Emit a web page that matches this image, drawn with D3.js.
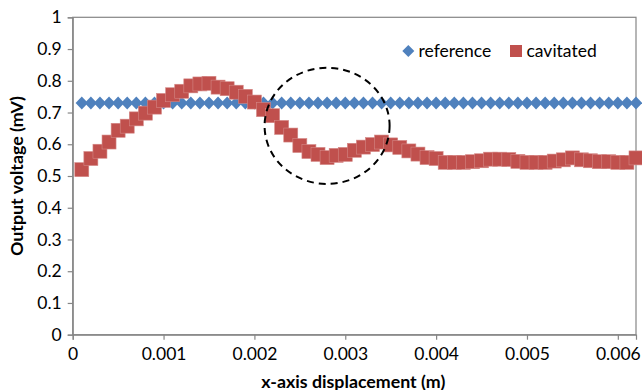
<!DOCTYPE html>
<html>
<head>
<meta charset="utf-8">
<script src="https://cdn.jsdelivr.net/npm/d3@7"></script>
<style>
  html, body { margin: 0; padding: 0; background: #ffffff; }
  svg { display: block; }
  text { font-family: Lato, "Open Sans", sans-serif; fill: #000; }
</style>
</head>
<body>
<svg id="chart" width="642" height="390"></svg>
<script>
// Displacement positions (m)
const xValues = d3.range(1, 63).map(i => +(i * 0.0001).toFixed(4));

// Output voltage (mV)
const referenceValues = xValues.map(() => 0.73);
const cavitatedValues = [
  0.520, 0.555, 0.578, 0.607, 0.644, 0.657, 0.680, 0.698, 0.717, 0.738,
  0.756, 0.767, 0.784, 0.790, 0.792, 0.780, 0.775, 0.764, 0.751, 0.733,
  0.709, 0.690, 0.653, 0.629, 0.596, 0.577, 0.568, 0.558, 0.565, 0.568,
  0.581, 0.591, 0.599, 0.607, 0.598, 0.590, 0.579, 0.569, 0.558, 0.555,
  0.543, 0.543, 0.543, 0.545, 0.548, 0.553, 0.553, 0.552, 0.546, 0.543,
  0.543, 0.543, 0.547, 0.551, 0.557, 0.551, 0.548, 0.545, 0.545, 0.543,
  0.543, 0.557
];

const seriesNames = ["reference", "cavitated"];
const seriesColors = ["#4F81BD", "#C0504D"];

const xTicks = [0, 0.001, 0.002, 0.003, 0.004, 0.005, 0.006];
const yTicks = [0, 0.1, 0.2, 0.3, 0.4, 0.5, 0.6, 0.7, 0.8, 0.9, 1];

// Highlighted region (dashed ellipse), in data units
const highlight = { cx: 0.0028, cy: 0.658, rx: 0.000688, ry: 0.183 };

const svg = d3.select("#chart");
const margin = { left: 72.7, right: 6, top: 17.3, bottom: 55.3 };
const W = 642, H = 390;
const fs = 17.5;

const x = d3.scaleLinear().domain([0, 0.0062]).range([margin.left, W - margin.right]);
const y = d3.scaleLinear().domain([0, 1]).range([H - margin.bottom, margin.top]);

const axisColor = "#868686";

// Plot area border
svg.append("rect")
  .attr("x", x(0)).attr("y", y(1))
  .attr("width", x(0.0062) - x(0)).attr("height", y(0) - y(1))
  .attr("fill", "none").attr("stroke", axisColor).attr("stroke-width", 1.2);

// Y axis
const yAxis = svg.append("g")
  .attr("transform", `translate(${x(0)},0)`)
  .call(d3.axisLeft(y).tickValues(yTicks).tickSize(5).tickPadding(6)
    .tickFormat(d => d === 0 ? "0" : d3.format("")(d)));
yAxis.select(".domain").attr("stroke", axisColor).attr("stroke-width", 1.2);
yAxis.selectAll(".tick line").attr("stroke", axisColor).attr("stroke-width", 1.2);
yAxis.selectAll("text").attr("font-size", fs).attr("font-family", "Lato, sans-serif").attr("fill", "#000");

// X axis
const xAxis = svg.append("g")
  .attr("transform", `translate(0,${y(0)})`)
  .call(d3.axisBottom(x).tickValues(xTicks).tickSize(5).tickPadding(8)
    .tickFormat(d => d === 0 ? "0" : d3.format(".3f")(d)));
xAxis.select(".domain").attr("stroke", axisColor).attr("stroke-width", 1.2);
xAxis.selectAll(".tick line").attr("stroke", axisColor).attr("stroke-width", 1.2);
xAxis.selectAll("text").attr("font-size", fs).attr("font-family", "Lato, sans-serif").attr("fill", "#000");

// Axis titles
svg.append("text")
  .attr("x", (x(0) + x(0.0062)) / 2 - 1).attr("y", 387.5)
  .attr("text-anchor", "middle").attr("font-size", 17.8).attr("font-weight", "bold")
  .text("x-axis displacement (m)");

svg.append("text")
  .attr("transform", `translate(23,${(y(0) + y(1)) / 2}) rotate(-90)`)
  .attr("text-anchor", "middle").attr("font-size", 17.8).attr("font-weight", "bold")
  .text("Output voltage (mV)");

const diamond = (hw, hh) => `M0,${-hh}L${hw},0L0,${hh}L${-hw},0Z`;

// Reference series: diamonds
svg.append("g").selectAll("path")
  .data(xValues.map((d, i) => [d, referenceValues[i]]))
  .join("path")
  .attr("d", diamond(6.2, 6.6))
  .attr("transform", d => `translate(${x(d[0])},${y(d[1])})`)
  .attr("fill", seriesColors[0]);

// Cavitated series: squares
const sq = 14;
svg.append("g").selectAll("rect")
  .data(xValues.map((d, i) => [d, cavitatedValues[i]]))
  .join("rect")
  .attr("x", d => x(d[0]) - sq / 2).attr("y", d => y(d[1]) - sq / 2)
  .attr("width", sq).attr("height", sq)
  .attr("fill", seriesColors[1])
  .attr("stroke", "#D48886").attr("stroke-width", 0.6);

// Dashed ellipse
svg.append("ellipse")
  .attr("cx", x(highlight.cx)).attr("cy", y(highlight.cy))
  .attr("rx", x(highlight.rx) - x(0)).attr("ry", y(0) - y(highlight.ry))
  .attr("fill", "none").attr("stroke", "#000").attr("stroke-width", 2)
  .attr("stroke-dasharray", "7,5");

// Legend
const legend = svg.append("g");
legend.append("path").attr("d", diamond(6, 6)).attr("transform", "translate(408.3,51)").attr("fill", seriesColors[0]);
legend.append("text").attr("x", 418.5).attr("y", 57).attr("font-size", fs).text(seriesNames[0]);
legend.append("rect").attr("x", 510).attr("y", 45).attr("width", 12).attr("height", 12).attr("fill", seriesColors[1]);
legend.append("text").attr("x", 526.5).attr("y", 57).attr("font-size", fs).text(seriesNames[1]);
</script>
</body>
</html>
